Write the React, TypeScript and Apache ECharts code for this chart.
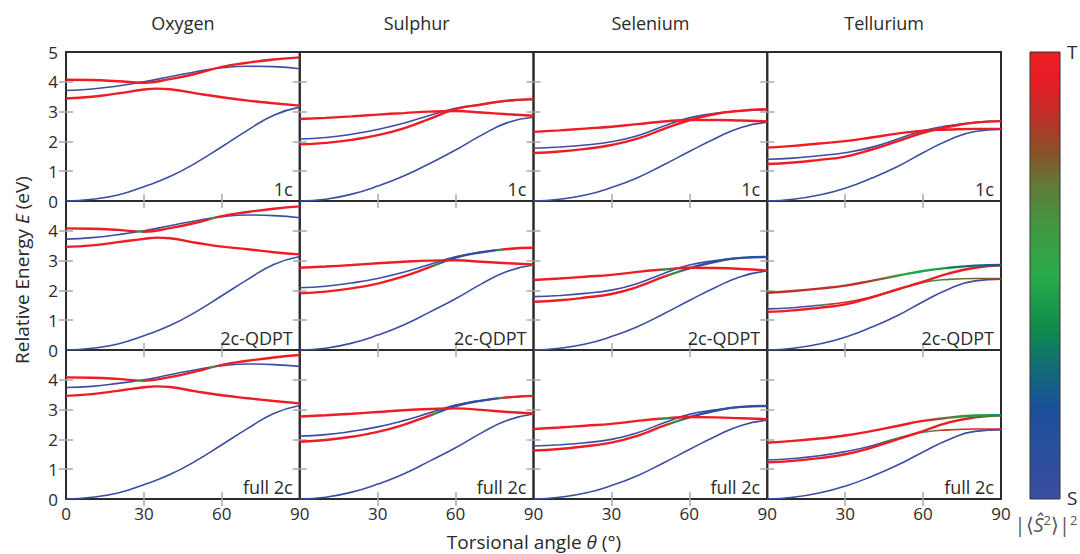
import React, { useEffect, useRef } from 'react';
import * as echarts from 'echarts';

// ---------------- data ----------------
const THETA = [0, 10, 20, 30, 40, 50, 60, 70, 80, 90];
const THETA_PEAK = [0, 10, 20, 30, 35, 40, 50, 60, 70, 80, 90];
const ELEMENTS = ['Oxygen', 'Sulphur', 'Selenium', 'Tellurium'];
const METHODS = ['1c', '2c-QDPT', 'full 2c'];
const X_LABELS_FIRST = [0, 30, 60, 90];
const X_LABELS_REST = [30, 60, 90];
const X_TICKS = [30, 60];
const Y_LABELS_TOP = [0, 1, 2, 3, 4, 5];
const Y_LABELS_REST = [0, 1, 2, 3, 4];
const Y_TICKS = [1, 2, 3, 4];

// Oxygen (T1 sampled on THETA_PEAK)
const OX_1C_S0 = [0, 0.06, 0.2, 0.48, 0.82, 1.28, 1.82, 2.38, 2.88, 3.15];
const OX_1C_S1 = [3.71, 3.76, 3.86, 4.0, 4.17, 4.34, 4.47, 4.52, 4.51, 4.44];
const OX_1C_T1 = [3.44, 3.5, 3.61, 3.74, 3.77, 3.75, 3.61, 3.48, 3.37, 3.28, 3.2];
const OX_1C_T2 = [4.07, 4.06, 4.02, 3.97, 4.09, 4.27, 4.5, 4.64, 4.75, 4.82];
const OX_QD_S0 = [0, 0.06, 0.2, 0.48, 0.82, 1.28, 1.82, 2.37, 2.87, 3.14];
const OX_QD_S1 = [3.72, 3.77, 3.87, 4.0, 4.17, 4.34, 4.47, 4.53, 4.51, 4.44];
const OX_QD_T1 = [3.46, 3.51, 3.62, 3.73, 3.77, 3.75, 3.6, 3.47, 3.38, 3.28, 3.21];
const OX_QD_T2 = [4.08, 4.07, 4.03, 3.97, 4.09, 4.27, 4.49, 4.63, 4.74, 4.82];
const OX_F2_S0 = [0, 0.06, 0.2, 0.48, 0.82, 1.28, 1.82, 2.37, 2.87, 3.14];
const OX_F2_S1 = [3.74, 3.78, 3.88, 4.0, 4.17, 4.34, 4.47, 4.53, 4.51, 4.45];
const OX_F2_T1 = [3.46, 3.52, 3.63, 3.75, 3.78, 3.76, 3.61, 3.48, 3.38, 3.29, 3.21];
const OX_F2_T2 = [4.08, 4.07, 4.03, 3.97, 4.09, 4.28, 4.5, 4.64, 4.75, 4.83];

// Sulphur
const SU_1C_S0 = [0, 0.06, 0.23, 0.5, 0.84, 1.26, 1.71, 2.21, 2.63, 2.81];
const SU_1C_S1 = [2.08, 2.13, 2.24, 2.4, 2.61, 2.87, 3.11, 3.24, 3.36, 3.41];
const SU_1C_T1 = [1.9, 1.95, 2.05, 2.21, 2.44, 2.76, 3.08, 3.24, 3.37, 3.42];
const SU_1C_T2 = [2.75, 2.79, 2.84, 2.9, 2.95, 3.0, 3.02, 2.97, 2.91, 2.86];
const SU_QD_S0 = [0, 0.06, 0.23, 0.5, 0.84, 1.27, 1.72, 2.22, 2.64, 2.85];
const SU_QD_S1 = [2.09, 2.14, 2.25, 2.4, 2.61, 2.87, 3.13, 3.28, 3.39, 3.43];
const SU_QD_T1 = [1.9, 1.96, 2.07, 2.23, 2.47, 2.78, 3.1, 3.28, 3.39, 3.43];
const SU_QD_T2 = [2.76, 2.8, 2.85, 2.91, 2.96, 3.0, 3.01, 2.96, 2.91, 2.87];
const SU_F2_S0 = [0, 0.06, 0.23, 0.5, 0.84, 1.27, 1.72, 2.22, 2.64, 2.85];
const SU_F2_S1 = [2.11, 2.16, 2.27, 2.42, 2.63, 2.89, 3.15, 3.3, 3.41, 3.46];
const SU_F2_T1 = [1.92, 1.98, 2.09, 2.25, 2.49, 2.8, 3.12, 3.3, 3.41, 3.46];
const SU_F2_T2 = [2.77, 2.81, 2.86, 2.92, 2.98, 3.02, 3.04, 2.99, 2.92, 2.87];

// Selenium
const SE_1C_S0 = [0, 0.06, 0.2, 0.45, 0.78, 1.21, 1.66, 2.1, 2.47, 2.64];
const SE_1C_S1 = [1.77, 1.81, 1.88, 1.99, 2.19, 2.51, 2.79, 2.94, 3.03, 3.06];
const SE_1C_T1 = [1.61, 1.66, 1.75, 1.88, 2.09, 2.41, 2.71, 2.92, 3.03, 3.08];
const SE_1C_T2 = [2.32, 2.37, 2.43, 2.49, 2.58, 2.67, 2.72, 2.72, 2.7, 2.67];
const SE_QD_S0 = [0, 0.06, 0.2, 0.45, 0.78, 1.21, 1.66, 2.1, 2.47, 2.65];
const SE_QD_S1 = [1.79, 1.83, 1.9, 2.01, 2.23, 2.56, 2.85, 3.0, 3.09, 3.12];
const SE_QD_T1 = [1.62, 1.67, 1.76, 1.88, 2.12, 2.45, 2.74, 2.96, 3.09, 3.12];
const SE_QD_T2 = [2.35, 2.4, 2.46, 2.52, 2.62, 2.7, 2.76, 2.75, 2.72, 2.67];
const SE_F2_S0 = [0, 0.06, 0.2, 0.45, 0.78, 1.21, 1.66, 2.1, 2.47, 2.64];
const SE_F2_S1 = [1.78, 1.82, 1.89, 2.0, 2.22, 2.55, 2.84, 2.99, 3.09, 3.12];
const SE_F2_T1 = [1.63, 1.68, 1.77, 1.89, 2.12, 2.45, 2.74, 2.96, 3.09, 3.12];
const SE_F2_T2 = [2.35, 2.4, 2.46, 2.52, 2.62, 2.7, 2.75, 2.74, 2.71, 2.68];

// Tellurium
const TE_1C_S0 = [0, 0.06, 0.2, 0.43, 0.76, 1.15, 1.62, 2.05, 2.33, 2.4];
const TE_1C_S1 = [1.4, 1.44, 1.52, 1.62, 1.8, 2.07, 2.36, 2.53, 2.64, 2.68];
const TE_1C_T1 = [1.24, 1.29, 1.38, 1.49, 1.72, 2.0, 2.29, 2.49, 2.63, 2.68];
const TE_1C_T2 = [1.79, 1.85, 1.93, 2.01, 2.13, 2.26, 2.36, 2.4, 2.42, 2.42];
const TE_QD_S0 = [0, 0.06, 0.2, 0.43, 0.76, 1.15, 1.62, 2.05, 2.32, 2.38];
const TE_QD_S1 = [1.38, 1.42, 1.5, 1.6, 1.78, 2.02, 2.27, 2.37, 2.4, 2.4];
const TE_QD_T1 = [1.28, 1.33, 1.42, 1.53, 1.76, 2.03, 2.29, 2.57, 2.76, 2.84];
const TE_QD_T2 = [1.92, 1.98, 2.06, 2.16, 2.32, 2.49, 2.65, 2.76, 2.83, 2.85];
const TE_F2_S0 = [0, 0.06, 0.2, 0.43, 0.75, 1.13, 1.58, 2.0, 2.27, 2.32];
const TE_F2_S1 = [1.31, 1.36, 1.45, 1.59, 1.78, 2.04, 2.24, 2.32, 2.35, 2.35];
const TE_F2_T1 = [1.23, 1.28, 1.37, 1.5, 1.72, 2.0, 2.28, 2.57, 2.74, 2.81];
const TE_F2_T2 = [1.89, 1.95, 2.03, 2.13, 2.28, 2.45, 2.62, 2.73, 2.8, 2.81];

// spin character |<S^2>|^2 along the curve: [theta, value] (0 = singlet, 1 = triplet)
const PURE_S = [[0, 0], [90, 0]];
const PURE_T = [[0, 1], [90, 1]];
const OX_2C_T2_SPIN = [[0, 1], [26, 1], [28.5, 0.45], [31, 1], [54, 1], [56.5, 0.45], [59, 1], [90, 1]];
const SU_2C_T1_SPIN = [[0, 1], [50, 1], [52.5, 0.45], [55, 0.05], [75, 0.05], [77, 0.45], [79, 1], [90, 1]];
const SE_2C_T1_SPIN = [[0, 1], [50, 1], [55, 0.45], [60, 0.1], [90, 0.05]];
const SE_2C_T2_SPIN = [[0, 1], [47, 1], [51, 0.45], [55, 1], [90, 1]];
const TE_QD_S1_SPIN = [[0, 0], [19, 0], [22, 0.45], [25, 0.95], [42, 0.9], [50, 0.5], [62, 0.45], [72, 0.72], [90, 0.78]];
const TE_QD_T2_SPIN = [[0, 0.86], [40, 0.84], [52, 0.5], [65, 0.45], [78, 0.3], [90, 0.22]];
const TE_F2_S1_SPIN = [[0, 0], [42, 0], [50, 0.45], [62, 0.45], [68, 0.9], [90, 0.95]];
const TE_F2_T1_SPIN = [[0, 1], [70, 1], [80, 0.85], [90, 0.8]];
const TE_F2_T2_SPIN = [[0, 1], [60, 1], [70, 0.7], [80, 0.45], [90, 0.4]];

type Curve = { e: number[]; kind: 'S' | 'T'; spin: number[][]; t: number[] };
const c = (e: number[], kind: 'S' | 'T', spin?: number[][] | null, t?: number[]): Curve => ({
  e,
  kind,
  spin: spin || (kind === 'S' ? PURE_S : PURE_T),
  t: t || THETA,
});

const PANELS: Curve[][][] = [
  [
    [c(OX_1C_S0, 'S'), c(OX_1C_S1, 'S'), c(OX_1C_T1, 'T', null, THETA_PEAK), c(OX_1C_T2, 'T')],
    [c(SU_1C_S0, 'S'), c(SU_1C_S1, 'S'), c(SU_1C_T1, 'T'), c(SU_1C_T2, 'T')],
    [c(SE_1C_S0, 'S'), c(SE_1C_S1, 'S'), c(SE_1C_T1, 'T'), c(SE_1C_T2, 'T')],
    [c(TE_1C_S0, 'S'), c(TE_1C_S1, 'S'), c(TE_1C_T1, 'T'), c(TE_1C_T2, 'T')],
  ],
  [
    [c(OX_QD_S0, 'S'), c(OX_QD_S1, 'S'), c(OX_QD_T1, 'T', null, THETA_PEAK), c(OX_QD_T2, 'T', OX_2C_T2_SPIN)],
    [c(SU_QD_S0, 'S'), c(SU_QD_S1, 'S'), c(SU_QD_T1, 'T', SU_2C_T1_SPIN), c(SU_QD_T2, 'T')],
    [c(SE_QD_S0, 'S'), c(SE_QD_S1, 'S'), c(SE_QD_T1, 'T', SE_2C_T1_SPIN), c(SE_QD_T2, 'T', SE_2C_T2_SPIN)],
    [c(TE_QD_S0, 'S'), c(TE_QD_S1, 'S', TE_QD_S1_SPIN), c(TE_QD_T1, 'T'), c(TE_QD_T2, 'T', TE_QD_T2_SPIN)],
  ],
  [
    [c(OX_F2_S0, 'S'), c(OX_F2_S1, 'S'), c(OX_F2_T1, 'T', null, THETA_PEAK), c(OX_F2_T2, 'T', OX_2C_T2_SPIN)],
    [c(SU_F2_S0, 'S'), c(SU_F2_S1, 'S'), c(SU_F2_T1, 'T', SU_2C_T1_SPIN), c(SU_F2_T2, 'T')],
    [c(SE_F2_S0, 'S'), c(SE_F2_S1, 'S'), c(SE_F2_T1, 'T', SE_2C_T1_SPIN), c(SE_F2_T2, 'T', SE_2C_T2_SPIN)],
    [c(TE_F2_S0, 'S'), c(TE_F2_S1, 'S', TE_F2_S1_SPIN), c(TE_F2_T1, 'T', TE_F2_T1_SPIN), c(TE_F2_T2, 'T', TE_F2_T2_SPIN)],
  ],
];

// ---------------- styling ----------------
const FONT = 'Open Sans';
const TEXT = '#2a2a2a';
const CMAP_S = [0, 0.2, 0.3, 0.38, 0.5, 0.6, 0.7, 0.78, 0.86, 0.93, 1];
const CMAP_C = ['#3b4ea0', '#1b4f9b', '#136c73', '#0e8c4b', '#27ab4b', '#3f9a42', '#5f7c36', '#8c4f27', '#c12e28', '#e41e25', '#ee1c25'];

function hexToRgb(h: string) {
  const n = parseInt(h.slice(1), 16);
  return [(n >> 16) & 255, (n >> 8) & 255, n & 255];
}
function cmap(s: number) {
  const v = Math.max(0, Math.min(1, s));
  for (let i = 1; i < CMAP_S.length; i++) {
    if (v <= CMAP_S[i]) {
      const t = (v - CMAP_S[i - 1]) / (CMAP_S[i] - CMAP_S[i - 1]);
      const a = hexToRgb(CMAP_C[i - 1]);
      const b = hexToRgb(CMAP_C[i]);
      const m = a.map((x, k) => Math.round(x + (b[k] - x) * t));
      return `rgb(${m[0]},${m[1]},${m[2]})`;
    }
  }
  return CMAP_C[CMAP_C.length - 1];
}

const LEFT0 = 66;
const TOP0 = 52;
const PW = 233.75;
const PH = 149;

function buildOption() {
  const grid: any[] = [];
  const xAxis: any[] = [];
  const yAxis: any[] = [];
  const series: any[] = [];
  const graphic: any[] = [];
  const tickStyle = { show: true, inside: true, length: 7, lineStyle: { color: '#a8a8a8', width: 1.5 } };

  for (let r = 0; r < 3; r++) {
    for (let col = 0; col < 4; col++) {
      const gi = r * 4 + col;
      const left = LEFT0 + col * PW;
      const top = TOP0 + r * PH;
      grid.push({ left, top, width: PW, height: PH, show: true, borderColor: '#2b2b2b', borderWidth: 2, backgroundColor: 'transparent' });
      const xBase = { type: 'value', gridIndex: gi, min: 0, max: 90, interval: 30, splitLine: { show: false }, axisLine: { show: false } };
      const yBase = { type: 'value', gridIndex: gi, min: 0, max: 5, interval: 1, splitLine: { show: false }, axisLine: { show: false } };
      xAxis.push({
        ...xBase,
        position: 'bottom',
        axisTick: { ...tickStyle, customValues: X_TICKS },
        axisLabel: {
          show: r === 2,
          customValues: col === 0 ? X_LABELS_FIRST : X_LABELS_REST,
          color: TEXT, fontSize: 17, fontFamily: FONT, margin: 6,
        },
      });
      xAxis.push({ ...xBase, position: 'top', axisTick: { ...tickStyle, customValues: X_TICKS }, axisLabel: { show: false } });
      yAxis.push({
        ...yBase,
        position: 'left',
        axisTick: { ...tickStyle, customValues: Y_TICKS },
        axisLabel: {
          show: col === 0,
          customValues: r === 0 ? Y_LABELS_TOP : Y_LABELS_REST,
          color: TEXT, fontSize: 17, fontFamily: FONT, margin: 8,
        },
      });
      yAxis.push({ ...yBase, position: 'right', axisTick: { ...tickStyle, customValues: Y_TICKS }, axisLabel: { show: false } });

      const curves = PANELS[r][col];
      const ordered = [...curves.filter((cv) => cv.kind === 'S'), ...curves.filter((cv) => cv.kind === 'T')];
      ordered.forEach((cv, k) => {
        const uniform = cv.spin.every((p) => p[1] === cv.spin[0][1]);
        const color = uniform
          ? cmap(cv.spin[0][1])
          : {
              type: 'linear', x: 0, y: 0, x2: 1, y2: 0,
              colorStops: cv.spin.map((p) => ({ offset: p[0] / 90, color: cmap(p[1]) })),
            };
        series.push({
          type: 'line',
          xAxisIndex: gi * 2,
          yAxisIndex: gi * 2,
          data: cv.t.map((t, i) => [t, cv.e[i]]),
          showSymbol: false,
          smooth: 0.5,
          z: 2 + k,
          lineStyle: { color, width: cv.kind === 'T' ? 2.4 : 1.6 },
          silent: true,
        });
      });

      graphic.push({
        type: 'text',
        x: left + PW - 7,
        y: top + PH - 12,
        z: 100,
        style: { text: METHODS[r], align: 'right', verticalAlign: 'middle', fontSize: 18, fontFamily: FONT, fill: TEXT },
      });
    }
  }

  ELEMENTS.forEach((el, col) => {
    graphic.push({
      type: 'text',
      x: LEFT0 + col * PW + PW / 2,
      y: 23,
      style: { text: el, align: 'center', verticalAlign: 'middle', fontSize: 18, fontFamily: FONT, fill: TEXT },
    });
  });

  graphic.push({
    type: 'text',
    x: 22,
    y: 270,
    rotation: Math.PI / 2,
    style: {
      text: 'Relative Energy {i|E} (eV)',
      align: 'center', verticalAlign: 'middle', fontSize: 19, lineHeight: 20, fontFamily: FONT, fill: TEXT,
      rich: { i: { fontStyle: 'italic', fontSize: 19, lineHeight: 20, fontFamily: FONT, fill: TEXT } },
    },
  });
  graphic.push({
    type: 'text',
    x: 534,
    y: 542,
    style: {
      text: 'Torsional angle {i|θ} (°)',
      align: 'center', verticalAlign: 'middle', fontSize: 19, lineHeight: 20, fontFamily: FONT, fill: TEXT,
      rich: { i: { fontStyle: 'italic', fontSize: 19, lineHeight: 20, fontFamily: FONT, fill: TEXT } },
    },
  });

  const stops: any[] = [];
  for (let i = 0; i <= 40; i++) {
    const s = 1 - i / 40;
    stops.push({ offset: i / 40, color: cmap(s) });
  }
  graphic.push({
    type: 'rect',
    shape: { x: 1030, y: 52, width: 30, height: 447 },
    style: { fill: new echarts.graphic.LinearGradient(0, 0, 0, 1, stops), stroke: '#333', lineWidth: 1 },
  });
  graphic.push({
    type: 'text', x: 1067, y: 52,
    style: { text: 'T', align: 'left', verticalAlign: 'middle', fontSize: 19, fontFamily: FONT, fill: TEXT },
  });
  graphic.push({
    type: 'text', x: 1067, y: 498,
    style: { text: 'S', align: 'left', verticalAlign: 'middle', fontSize: 19, fontFamily: FONT, fill: TEXT },
  });
  graphic.push({
    type: 'text', x: 1046, y: 524,
    style: {
      text: '|⟨{i|Ŝ}{s|2}⟩|{s|2}',
      align: 'center', verticalAlign: 'middle', fontSize: 20, fontFamily: FONT, fill: '#555',
      rich: {
        i: { fontStyle: 'italic', fontSize: 20, fontFamily: FONT, fill: '#555' },
        s: { fontSize: 13, fontFamily: FONT, fill: '#555', verticalAlign: 'top', padding: [0, 0, 9, 0] },
      },
    },
  });

  return { animation: false, backgroundColor: '#ffffff', grid, xAxis, yAxis, series, graphic };
}

export default function App() {
  const ref = useRef<HTMLDivElement>(null);
  useEffect(() => {
    document.body.style.margin = '0';
    if (!ref.current) return;
    const chart = echarts.init(ref.current, null, { renderer: 'svg' });
    chart.setOption(buildOption() as any);
    return () => chart.dispose();
  }, []);
  return <div ref={ref} style={{ width: 1080, height: 554 }} />;
}
